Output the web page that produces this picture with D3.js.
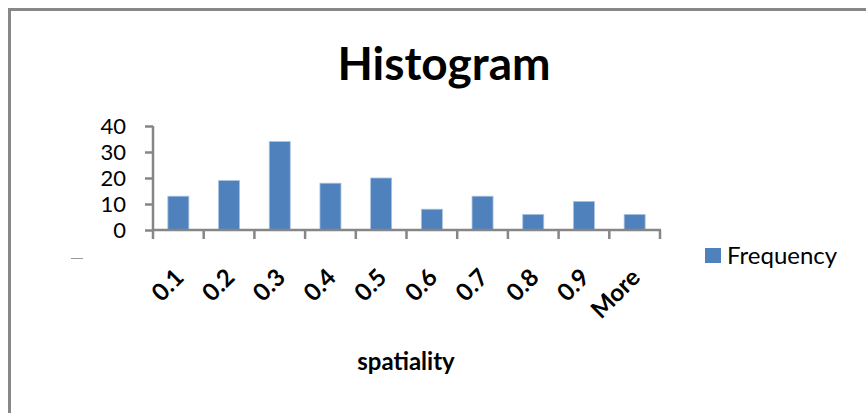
<!DOCTYPE html>
<html><head><meta charset="utf-8">
<script src="https://cdn.jsdelivr.net/npm/d3@7"></script>
<style>body{margin:0;background:#fff}svg{display:block}</style>
</head><body>
<svg id="c" width="866" height="413"></svg>
<script>
const categories = ["0.1","0.2","0.3","0.4","0.5","0.6","0.7","0.8","0.9","More"];
const frequency = [13,19,34,18,20,8,13,6,11,6];
const yTicks = [0,10,20,30,40];
const title = "Histogram";
const xTitle = "spatiality";
const seriesName = "Frequency";

const svg = d3.select("#c");
const font = "Lato, 'Open Sans', sans-serif";
const axisColor = "#868686";

// chart frame
svg.append("rect").attr("x",9.5).attr("y",9.5).attr("width",880).attr("height",440)
  .attr("fill","#fff").attr("stroke","#888").attr("stroke-width",3);

const xb = d3.scaleBand().domain(categories).range([153,660]);
const y = d3.scaleLinear().domain([0,40]).range([230,126]);

// bars
svg.selectAll("rect.bar").data(frequency).join("rect").attr("class","bar")
  .attr("x",(d,i)=>xb(categories[i]) + xb.bandwidth()/2 - 10.5)
  .attr("width",21)
  .attr("y",d=>y(d)).attr("height",d=>y(0)-y(d))
  .attr("fill","#4F81BD").attr("stroke","#a9c2e0").attr("stroke-width",0.8);

// y axis
const ya = svg.append("g").attr("transform","translate(153,0)")
  .call(d3.axisLeft(y).tickValues(yTicks).tickSize(8).tickPadding(19));
ya.select(".domain").attr("stroke",axisColor).attr("stroke-width",2.5).attr("d","M0,126V230");
ya.selectAll(".tick line").attr("stroke",axisColor).attr("stroke-width",2.5);
ya.selectAll(".tick text").attr("font-family",font).attr("font-size",22).attr("fill","#000").attr("dy","0.36em");

// x axis
const xa = svg.append("g").attr("transform","translate(0,230)")
  .call(d3.axisBottom(xb).tickSize(0).tickFormat(""));
xa.select(".domain").attr("stroke",axisColor).attr("stroke-width",2.5).attr("d","M153,0H661");
const edges = categories.map(c=>xb(c)).concat([660]);
xa.selectAll("line.edge").data(edges).join("line").attr("class","edge")
  .attr("x1",d=>d).attr("x2",d=>d).attr("y1",0).attr("y2",9)
  .attr("stroke",axisColor).attr("stroke-width",2.5);

// rotated labels
svg.append("g").selectAll("text").data(categories).join("text")
  .attr("transform",d=>`translate(${xb(d)+xb.bandwidth()/2+7},${279}) rotate(-45)`)
  .attr("text-anchor","end")
  .attr("font-family",font).attr("font-size",24).attr("font-weight",700).attr("fill","#000")
  .text(d=>d);

// title
svg.append("text").attr("x",444).attr("y",80).attr("text-anchor","middle")
  .attr("font-family",font).attr("font-weight",700).attr("font-size",46).text(title);

// axis title
svg.append("text").attr("x",406).attr("y",370).attr("text-anchor","middle")
  .attr("font-family",font).attr("font-weight",700).attr("font-size",24).text(xTitle);

// small dash
svg.append("line").attr("x1",71).attr("x2",83).attr("y1",258.5).attr("y2",258.5)
  .attr("stroke","#999").attr("stroke-width",1);

// legend
const lg = svg.append("g");
lg.append("rect").attr("x",705).attr("y",248).attr("width",16).attr("height",15).attr("fill","#4F81BD");
lg.append("text").attr("x",727).attr("y",264).attr("font-family",font).attr("font-size",24).text(seriesName);
</script>
</body></html>
